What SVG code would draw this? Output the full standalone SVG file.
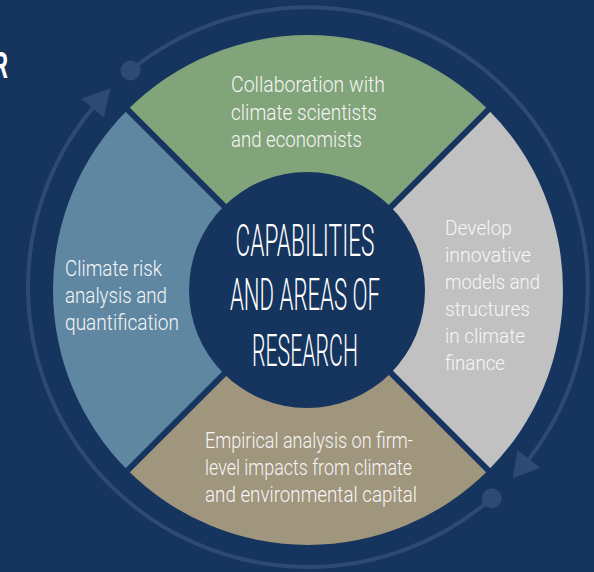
<svg xmlns="http://www.w3.org/2000/svg" width="594" height="572" viewBox="0 0 594 572">
<defs>
<style>
.bg{fill:#15345e}
.ring{fill:none;stroke:#2d4a74;stroke-width:4}
.mk{fill:#2d4a74}
.sep{stroke:#15345e;stroke-width:6}
.t{font-family:Roboto,"Liberation Sans",sans-serif;font-weight:300;font-size:22px;fill:#f6f6f6}
.tr{font-size:21px}
.c{font-family:Roboto,"Liberation Sans",sans-serif;font-weight:300;font-size:44px;fill:#ffffff;text-anchor:middle}
.h{font-family:Roboto,"Liberation Sans",sans-serif;font-weight:700;font-size:37px;fill:#ffffff;text-anchor:end}
</style>
</defs>
<rect class="bg" x="0" y="0" width="594" height="572"/>
<text class="h" transform="translate(8,78) scale(0.6,1)" x="0" y="0">R</text>
<g id="connectors">
<path class="ring" d="M491.7,498.3 A280,280 0 0 1 92.6,108.1"/>
<path class="ring" d="M130.5,70.5 A280,280 0 0 1 529.0,458.9"/>
<polygon class="mk" points="81.3,98.8 103.8,117.5 110.5,88.5"/>
<polygon class="mk" points="540.5,467.9 517.5,450 512.8,477.9"/>
<circle class="mk" cx="130.5" cy="70.5" r="10"/>
<circle class="mk" cx="491.7" cy="498.3" r="10"/>
</g>
<g id="node-top">
<path d="M308,290 L127.7,109.7 A255,255 0 0 1 488.3,109.7 Z" fill="#82a47a"/>
<text class="t"><tspan x="231" y="92" textLength="154" lengthAdjust="spacingAndGlyphs">Collaboration with</tspan><tspan x="231" y="120" textLength="146" lengthAdjust="spacingAndGlyphs">climate scientists</tspan><tspan x="231" y="147" textLength="131" lengthAdjust="spacingAndGlyphs">and economists</tspan></text>
</g>
<g id="node-right">
<path d="M308,290 L488.3,109.7 A255,255 0 0 1 488.3,470.3 Z" fill="#c1c1c1"/>
<text class="t tr"><tspan x="445" y="235" textLength="67" lengthAdjust="spacingAndGlyphs">Develop</tspan><tspan x="445" y="262" textLength="86" lengthAdjust="spacingAndGlyphs">innovative</tspan><tspan x="445" y="289" textLength="95" lengthAdjust="spacingAndGlyphs">models and</tspan><tspan x="445" y="316" textLength="85" lengthAdjust="spacingAndGlyphs">structures</tspan><tspan x="445" y="343" textLength="80" lengthAdjust="spacingAndGlyphs">in climate</tspan><tspan x="445" y="370" textLength="60" lengthAdjust="spacingAndGlyphs">finance</tspan></text>
</g>
<g id="node-bottom">
<path d="M308,290 L488.3,470.3 A255,255 0 0 1 127.7,470.3 Z" fill="#a0957d"/>
<text class="t"><tspan x="205" y="448" textLength="208" lengthAdjust="spacingAndGlyphs">Empirical analysis on firm-</tspan><tspan x="205" y="475" textLength="207" lengthAdjust="spacingAndGlyphs">level impacts from climate</tspan><tspan x="205" y="502" textLength="212" lengthAdjust="spacingAndGlyphs">and environmental capital</tspan></text>
</g>
<g id="node-left">
<path d="M308,290 L127.7,470.3 A255,255 0 0 1 127.7,109.7 Z" fill="#5f87a1"/>
<text class="t"><tspan x="65" y="276" textLength="97" lengthAdjust="spacingAndGlyphs">Climate risk</tspan><tspan x="65" y="303" textLength="102" lengthAdjust="spacingAndGlyphs">analysis and</tspan><tspan x="65" y="330" textLength="114" lengthAdjust="spacingAndGlyphs">quantification</tspan></text>
</g>
<g id="separators">
<line class="sep" x1="124" y1="106" x2="492" y2="474"/>
<line class="sep" x1="492" y1="106" x2="124" y2="474"/>
</g>
<g id="node-center">
<circle cx="307" cy="290" r="118" fill="#15345e"/>
<text class="c"><tspan x="305" y="256" textLength="139" lengthAdjust="spacingAndGlyphs">CAPABILITIES</tspan><tspan x="305" y="310" textLength="150" lengthAdjust="spacingAndGlyphs">AND AREAS OF</tspan><tspan x="305" y="366" textLength="106" lengthAdjust="spacingAndGlyphs">RESEARCH</tspan></text>
</g>
</svg>
